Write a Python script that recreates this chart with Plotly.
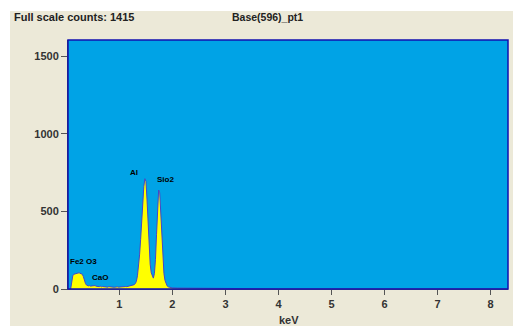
import plotly.graph_objects as go

# ---- data ----
energy_kev = [0.08, 0.10, 0.12, 0.14, 0.16, 0.18, 0.20, 0.22, 0.24, 0.26, 0.28, 0.30,
              0.32, 0.34, 0.36, 0.38, 0.40, 0.42, 0.44, 0.46, 0.48, 0.50, 0.52, 0.54,
              0.56, 0.58, 0.60, 0.62, 0.64, 0.66, 0.68, 0.70, 0.72, 0.74, 0.76, 0.78,
              0.80, 0.82, 0.84, 0.86, 0.88, 0.90, 0.92, 0.94, 0.96, 0.98, 1.00, 1.02,
              1.04, 1.06, 1.08, 1.10, 1.12, 1.14, 1.16, 1.18, 1.20, 1.22, 1.24, 1.26,
              1.28, 1.30, 1.32, 1.34, 1.36, 1.38, 1.40, 1.42, 1.44, 1.46, 1.48, 1.50,
              1.52, 1.54, 1.56, 1.58, 1.60, 1.62, 1.64, 1.66, 1.68, 1.70, 1.72, 1.74,
              1.76, 1.78, 1.80, 1.82, 1.84, 1.86, 1.88, 1.90, 1.92, 1.94, 1.96, 1.98,
              2.00, 2.10, 2.30, 2.50, 2.70, 2.90, 3.10, 3.50, 4.00, 5.00, 6.00, 7.00,
              8.00, 8.30]
counts = [0, 60, 85, 95, 98, 100, 102, 103, 104, 102, 100, 95,
          80, 55, 35, 25, 22, 20, 22, 18, 20, 21, 19, 22,
          18, 16, 17, 15, 18, 14, 16, 15, 13, 16, 14, 12,
          15, 13, 11, 14, 12, 11, 13, 12, 14, 12, 13, 12,
          14, 13, 15, 14, 16, 15, 17, 16, 18, 19, 21, 24,
          28, 35, 50, 85, 140, 220, 320, 440, 560, 660, 711, 695,
          580, 420, 270, 160, 105, 78, 70, 100, 190, 350, 530, 638,
          620, 490, 320, 185, 100, 55, 32, 20, 14, 11, 9, 8,
          7, 6, 5, 4, 4, 3, 2, 1, 1, 1, 1, 1,
          1, 1]

peak_labels = ["Fe2 O3", "CaO", "Al", "Sio2"]
peak_label_x = [0.33, 0.64, 1.28, 1.86]
peak_label_y = [175, 72, 752, 705]

x_ticks = [1, 2, 3, 4, 5, 6, 7, 8]
y_ticks = [0, 500, 1000, 1500]

title_left = "Full scale counts: 1415"
title_mid = "Base(596)_pt1"
x_title = "keV"

# ---- layout geometry (pixels) ----
W, H = 513, 326
L, R, T, B = 68, 508, 40, 289
pw, ph = R - L, B - T


def px(x):
    return (x - L) / pw


def py(y):
    return (B - y) / ph


BEIGE = "#ECE9D8"
BLUE = "#00A3E6"
FONT = "Liberation Sans"

fig = go.Figure()
fig.add_trace(go.Scatter(
    x=energy_kev, y=counts, mode="lines",
    line=dict(color="#4545c8", width=1),
    fill="tozeroy", fillcolor="#FFFF00",
    hoverinfo="skip", showlegend=False,
))

annotations = []
for t, xv, yv in zip(peak_labels, peak_label_x, peak_label_y):
    annotations.append(dict(x=xv, y=yv, xref="x", yref="y", text="<b>%s</b>" % t,
                            showarrow=False, font=dict(family=FONT, size=8, color="black")))
annotations.append(dict(x=px(12), y=py(17), xref="paper", yref="paper",
                        text="<b>%s</b>" % title_left, showarrow=False,
                        xanchor="left", yanchor="middle",
                        font=dict(family=FONT, size=11, color="#222")))
annotations.append(dict(x=px(230), y=py(17), xref="paper", yref="paper",
                        text="<b>%s</b>" % title_mid, showarrow=False,
                        xanchor="left", yanchor="middle",
                        font=dict(family=FONT, size=10.5, color="#222")))
annotations.append(dict(x=px(289), y=py(320), xref="paper", yref="paper",
                        text="<b>%s</b>" % x_title, showarrow=False,
                        xanchor="center", yanchor="middle",
                        font=dict(family=FONT, size=11, color="#333")))

shapes = [
    # white strips at the top and left of the picture
    dict(type="rect", xref="paper", yref="paper", x0=px(0), x1=px(W), y0=py(11), y1=py(-5),
         fillcolor="white", line=dict(width=0), layer="above"),
    dict(type="rect", xref="paper", yref="paper", x0=px(-5), x1=px(10), y0=py(H + 5), y1=py(-5),
         fillcolor="white", line=dict(width=0), layer="above"),
    # plot frame
    dict(type="rect", xref="paper", yref="paper", x0=0, x1=1, y0=0, y1=1,
         line=dict(color="#1010b0", width=1.5), layer="above"),
]

fig.update_layout(
    width=W, height=H,
    margin=dict(l=L, r=W - R, t=T, b=H - B, pad=0),
    paper_bgcolor=BEIGE, plot_bgcolor=BLUE,
    font=dict(family=FONT, size=11, color="#333"),
    showlegend=False,
    annotations=annotations, shapes=shapes,
    xaxis=dict(range=[0.03, 8.33], tickvals=x_ticks, ticktext=["<b>%d</b>" % v for v in x_ticks],
               ticks="outside", ticklen=5, tickcolor="#555", showgrid=False, zeroline=False,
               showline=True, linecolor="#555", linewidth=1,
               tickfont=dict(family=FONT, size=11, color="#333")),
    yaxis=dict(range=[0, 1605], tickvals=y_ticks, ticktext=["<b>%d</b>" % v for v in y_ticks],
               ticks="outside", ticklen=6, tickcolor="#555", showgrid=False, zeroline=False,
               showline=True, linecolor="#444", linewidth=1,
               tickfont=dict(family=FONT, size=11, color="#333")),
)

fig.write_html("out.html", config={"displayModeBar": False},
               post_script="document.body.style.margin='0px';")
